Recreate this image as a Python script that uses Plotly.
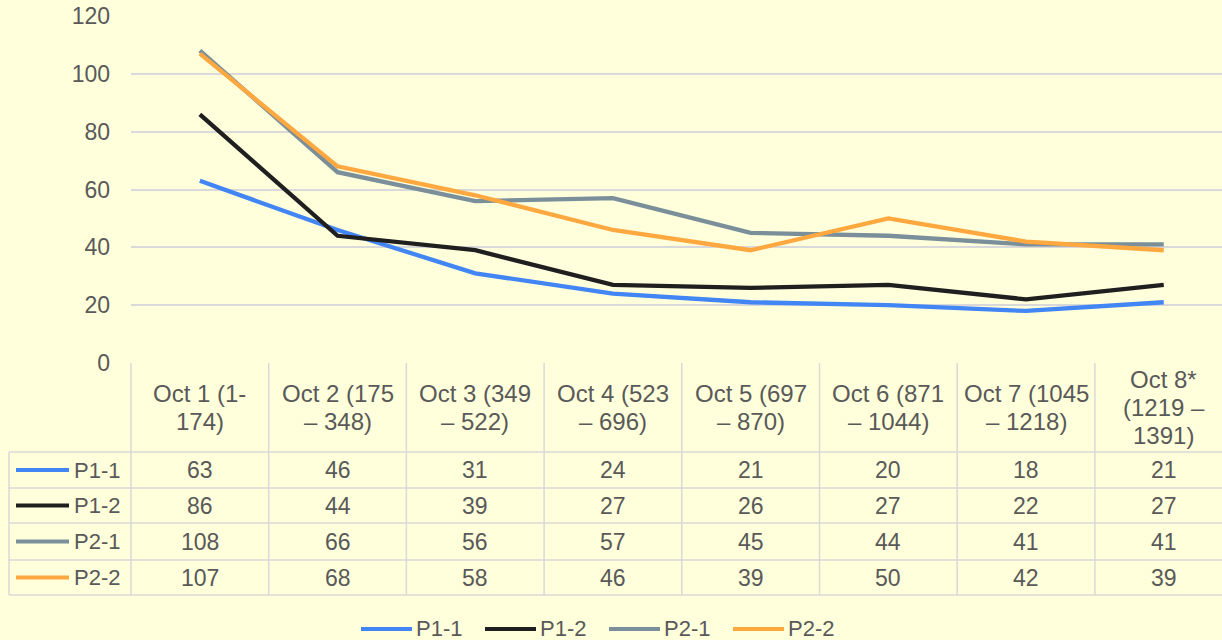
import plotly.graph_objects as go

categories = ["Oct 1 (1-<br>174)", "Oct 2 (175<br>– 348)", "Oct 3 (349<br>– 522)",
              "Oct 4 (523<br>– 696)", "Oct 5 (697<br>– 870)", "Oct 6 (871<br>– 1044)",
              "Oct 7 (1045<br>– 1218)", "Oct 8*<br>(1219 –<br>1391)"]
series_names = ["P1-1", "P1-2", "P2-1", "P2-2"]
p1_1 = [63, 46, 31, 24, 21, 20, 18, 21]
p1_2 = [86, 44, 39, 27, 26, 27, 22, 27]
p2_1 = [108, 66, 56, 57, 45, 44, 41, 41]
p2_2 = [107, 68, 58, 46, 39, 50, 42, 39]
y_ticks = [0, 20, 40, 60, 80, 100, 120]

series_values = [p1_1, p1_2, p2_1, p2_2]
colors = ["#4285F4", "#1F1F1F", "#7A8F99", "#FFA83F"]

W, H = 1222, 640
L, T, B = 131, 16, 363  # plot area pixel edges
PW = W - L
PH = B - T
COLW = 137.7
TXT = "#595959"
GRID = "#D9D9D9"
FONT = "Liberation Sans, Arial, sans-serif"
FS_HDR = 24
FS_VAL = 23
FS_TICK = 23
FS_LEG = 22
LINE_H = 28


def px_x(x):
    return (x - L) / PW


def px_y(y):
    return (B - y) / PH


xs = list(range(len(categories)))
fig = go.Figure()
for name, vals, c in zip(series_names, series_values, colors):
    fig.add_trace(go.Scatter(x=xs, y=vals, mode="lines", name=name,
                             line=dict(color=c, width=4.3), showlegend=False,
                             hoverinfo="x+y+name"))

x_right = -0.5 + PW / COLW

shapes = []
annotations = []
header_bottom = 452
row_lines = [452, 488, 523, 560, 595]
table_left = 9


def hline(y, x0, x1):
    shapes.append(dict(type="line", xref="paper", yref="paper",
                       x0=px_x(x0), x1=px_x(x1), y0=px_y(y), y1=px_y(y),
                       line=dict(color=GRID, width=1.5), layer="below"))


def vline(x, y0, y1):
    shapes.append(dict(type="line", xref="paper", yref="paper",
                       x0=px_x(x), x1=px_x(x), y0=px_y(y0), y1=px_y(y1),
                       line=dict(color=GRID, width=1.5), layer="below"))


for y in row_lines:
    hline(y, table_left, W + 5)
for i in range(len(categories) + 1):
    vline(L + i * COLW, B, row_lines[-1])
vline(table_left, header_bottom, row_lines[-1])

# header texts, one annotation per line for Excel-like line spacing
hdr_mid = (B + header_bottom) / 2
for i, cat in enumerate(categories):
    parts = cat.split("<br>")
    n = len(parts)
    for k, part in enumerate(parts):
        yc = hdr_mid + (k - (n - 1) / 2) * LINE_H
        annotations.append(dict(x=i, y=px_y(yc), xref="x", yref="paper",
                                text=part, showarrow=False,
                                font=dict(size=FS_HDR, color=TXT, family=FONT),
                                xanchor="center", yanchor="middle"))

# rows
for r, (name, vals, c) in enumerate(zip(series_names, series_values, colors)):
    yc = (row_lines[r] + row_lines[r + 1]) / 2
    shapes.append(dict(type="line", xref="paper", yref="paper",
                       x0=px_x(16), x1=px_x(69), y0=px_y(yc), y1=px_y(yc),
                       line=dict(color=c, width=4)))
    annotations.append(dict(x=px_x(72), y=px_y(yc), xref="paper", yref="paper", text=name,
                            showarrow=False, xanchor="left", yanchor="middle",
                            font=dict(size=FS_LEG, color=TXT, family=FONT)))
    for i, v in enumerate(vals):
        annotations.append(dict(x=i, y=px_y(yc), xref="x", yref="paper", text=str(v),
                                showarrow=False, xanchor="center", yanchor="middle",
                                font=dict(size=FS_VAL, color=TXT, family=FONT)))

# bottom legend
leg_x = [361, 485, 609, 733]
leg_y = 628
for name, c, lx in zip(series_names, colors, leg_x):
    shapes.append(dict(type="line", xref="paper", yref="paper",
                       x0=px_x(lx), x1=px_x(lx + 51), y0=px_y(leg_y + 1), y1=px_y(leg_y + 1),
                       line=dict(color=c, width=4)))
    annotations.append(dict(x=px_x(lx + 53), y=px_y(leg_y), xref="paper", yref="paper",
                            text=name, showarrow=False, xanchor="left", yanchor="middle",
                            font=dict(size=FS_LEG, color=TXT, family=FONT)))

fig.update_layout(
    width=W, height=H,
    margin=dict(l=L, r=0, t=T, b=H - B, pad=0),
    paper_bgcolor="#FFFFDC", plot_bgcolor="#FFFFDC",
    font=dict(family=FONT, size=FS_VAL, color=TXT),
    xaxis=dict(range=[-0.5, x_right], showgrid=False, zeroline=False,
               showticklabels=False, ticks="", showline=False, fixedrange=True),
    yaxis=dict(range=[0, 120], tickvals=y_ticks, showgrid=True, gridcolor=GRID, gridwidth=1.5,
               zeroline=False, showline=False, ticks="", ticklabelstandoff=20,
               tickfont=dict(size=FS_TICK, color=TXT, family=FONT), fixedrange=True),
    shapes=shapes, annotations=annotations, showlegend=False,
)

fig.write_html("out.html", config={"displayModeBar": False},
               post_script="document.body.style.margin='0';document.body.style.padding='0';"
                           "document.body.style.overflow='hidden';")
